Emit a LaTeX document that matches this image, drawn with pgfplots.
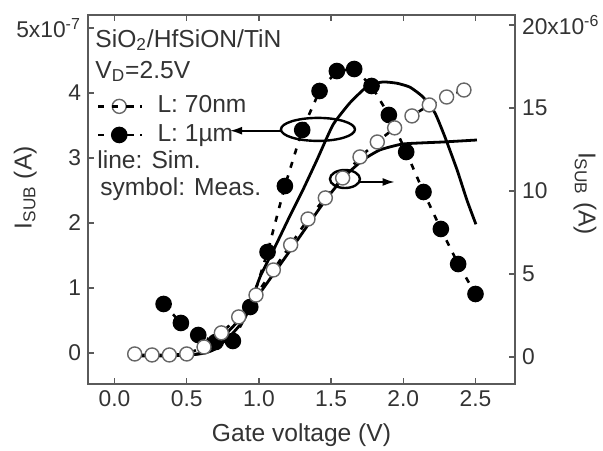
\documentclass[border=0pt]{standalone}
\usepackage{fontspec}
\setmainfont{Liberation Sans}
\usepackage{pgfplots}
\pgfplotsset{compat=1.18}
\usetikzlibrary{arrows.meta}
\definecolor{txt}{HTML}{333333}
\definecolor{axc}{HTML}{5A5A5A}
\newcommand{\tickf}{\fontsize{11.4}{13}\selectfont}
\newcommand{\labf}{\fontsize{12.3}{14}\selectfont}
\pgfplotsset{
  common/.style={
    at={(0pt,0pt)}, anchor=south west,
    width=213.5pt, height=184.5pt, scale only axis,
    xmin=-0.1835, xmax=2.7736,
    axis line style={draw=axc, line width=0.9pt},
    tick style={draw=axc, line width=0.7pt},
    major tick length=3pt,
    tick align=inside,
    ticklabel style={font=\tickf, text=txt},
    /pgf/number format/assume math mode=true,
  },
  simline/.style={black, line width=1.4pt, no marks, smooth, tension=0.3},
  openser/.style={black, line width=1.3pt, dash pattern=on 3pt off 4pt, mark=*, mark size=3.5pt,
     mark options={solid, draw=black!60, fill=white, line width=0.7pt}},
  fillser/.style={black, line width=1.3pt, dash pattern=on 3pt off 4pt, mark=*, mark size=3.5pt,
     mark options={solid, draw=black, fill=black}},
}
\begin{document}
\begin{tikzpicture}
\useasboundingbox (-44pt,-33pt) rectangle (257.5pt,192pt);
\begin{axis}[common,
  ymin=-0.477, ymax=5.2,
  xtick={0,0.5,1,1.5,2,2.5}, xticklabels={0.0,0.5,1.0,1.5,2.0,2.5}, xtick pos=both,
  ytick={0,1,2,3,4,5}, yticklabels={0,1,2,3,4,{5x10\textsuperscript{-7}}}, ytick pos=left,
  xlabel={Gate voltage (V)}, ylabel={I\textsubscript{SUB} (A)},
  every axis x label/.style={at={(axis description cs:0.5,-0.138)}, anchor=center, font=\labf, text=txt},
  every axis y label/.style={at={(axis description cs:-0.147,0.532)}, rotate=90, anchor=center, font=\labf, text=txt},
  legend style={at={(axis description cs:0.021,0.783)}, anchor=north west, draw=none, fill=none,
     inner sep=0pt, outer sep=0pt, font=\labf, text=txt, row sep=3pt,
     nodes={inner sep=0pt, text height=8.8pt, text depth=2.5pt},
     /tikz/every odd column/.append style={column sep=7pt}},
  legend cell align=left,
  legend image code/.code={
    \draw[#1,solid] (0pt,0pt) -- (2.5pt,0pt);
    \draw[#1,solid] (15pt,0pt) -- (18pt,0pt);
    \draw[#1] plot coordinates {(10.5pt,0pt)};
    \path (0pt,0pt) -- (22pt,0pt);
  },
]
\addlegendimage{openser}
\addlegendentry{L: 70nm}
\addplot[fillser] coordinates {
(0.34,0.754) (0.46,0.462) (0.58,0.277) (0.70,0.169) (0.82,0.185) (0.94,0.708)
(1.06,1.554) (1.18,2.569) (1.30,3.431) (1.42,4.031) (1.54,4.338) (1.66,4.369)
(1.78,4.108) (1.90,3.662) (2.02,3.092) (2.14,2.477) (2.26,1.908) (2.38,1.369) (2.50,0.908)
};
\addlegendentry{L: 1µm}
\addplot[simline, forget plot] coordinates {
(0.093,-0.03) (0.30,-0.03) (0.523,-0.03) (0.627,0.0) (0.696,0.06) (0.80,0.26) (0.904,0.54)
(1.008,1.17) (1.111,1.63) (1.215,2.11) (1.305,2.51) (1.402,2.97) (1.513,3.51)
(1.631,3.85) (1.755,4.11) (1.859,4.17) (1.956,4.15) (2.046,4.09) (2.136,3.94)
(2.22,3.69) (2.289,3.32) (2.372,2.82) (2.441,2.35) (2.503,1.98)
};
\node[anchor=base west, inner sep=0pt, font=\labf, text=txt] at (axis description cs:0.0164,0.913) {SiO\textsubscript{2}/HfSiON/TiN};
\node[anchor=base west, inner sep=0pt, font=\labf, text=txt] at (axis description cs:0.0164,0.829) {V\textsubscript{D}=2.5V};
\node[anchor=base west, inner sep=0pt, font=\labf, text=txt] at (axis description cs:0.021,0.585) {line: Sim.};
\node[anchor=base west, inner sep=0pt, font=\labf, text=txt] at (axis description cs:0.028,0.512) {symbol: Meas.};
\draw[line width=1.2pt] (axis cs:1.409,3.44) ellipse [x radius=18.5pt, y radius=5.75pt];
\draw[line width=0.9pt, -{Latex[length=6pt,width=4pt]}] (axis cs:1.16,3.42) -- (axis cs:0.80,3.42);
\end{axis}
\begin{axis}[common,
  ymin=-1.63, ymax=20.6,
  axis x line=none, axis y line*=right,
  ytick={0,5,10,15,20}, yticklabels={0,5,10,15,{20x10\textsuperscript{-6}}},
  ylabel={I\textsubscript{SUB} (A)},
  every axis y label/.style={at={(axis description cs:1.164,0.516)}, rotate=-90, anchor=center, font=\labf, text=txt},
]
\addplot[simline] coordinates {
(0.093,0.06) (0.30,0.06) (0.523,0.12) (0.627,0.3) (0.744,1.14) (0.869,2.29) (0.987,3.61)
(1.111,5.12) (1.229,6.57) (1.354,8.13) (1.472,9.58) (1.596,10.9) (1.721,11.87)
(1.838,12.47) (1.998,12.83) (2.275,12.95) (2.51,13.07)
};
\addplot[openser] coordinates {
(0.14,0.18) (0.26,0.12) (0.38,0.12) (0.50,0.18) (0.62,0.6) (0.74,1.45) (0.86,2.41)
(0.98,3.73) (1.10,5.24) (1.22,6.75) (1.34,8.31) (1.46,9.58) (1.58,10.78) (1.70,12.05)
(1.82,12.95) (1.94,13.8) (2.06,14.52) (2.18,15.18) (2.30,15.66) (2.42,16.08)
};
\draw[line width=1.2pt] (axis cs:1.596,10.72) ellipse [x radius=7.5pt, y radius=4.5pt];
\draw[line width=0.9pt, -{Latex[length=6pt,width=4pt]}] (axis cs:1.70,10.54) -- (axis cs:1.94,10.54);
\end{axis}
\end{tikzpicture}
\end{document}
